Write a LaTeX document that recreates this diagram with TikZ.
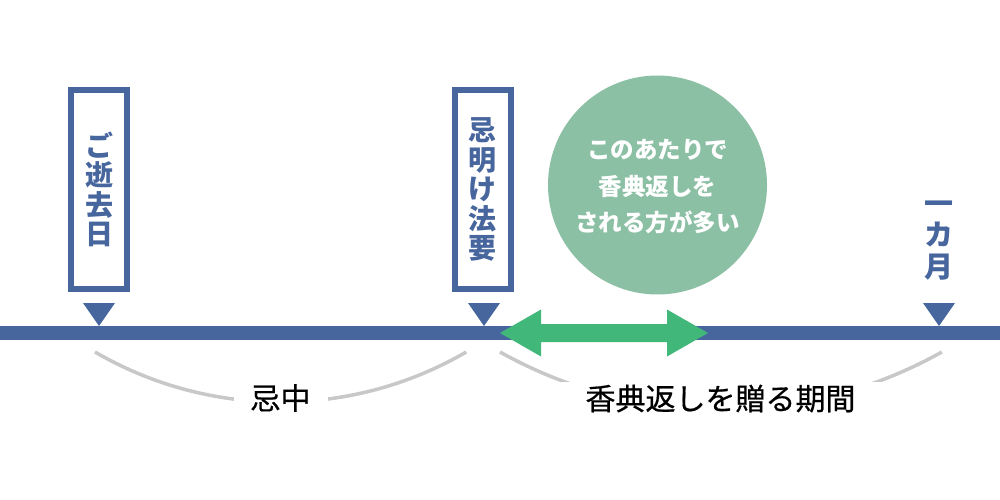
\documentclass[tikz,border=0pt]{standalone}
\usepackage{fontspec}
\newfontfamily\cjk{Noto Sans CJK JP}
\newfontfamily\cjkmed[FakeBold=0.6]{Noto Sans CJK JP}
\definecolor{tlblue}{HTML}{48669E}
\definecolor{arrgreen}{HTML}{41B87A}
\definecolor{circgreen}{HTML}{8CC0A5}
\definecolor{arcgray}{HTML}{C8C8C8}
\begin{document}
\begin{tikzpicture}[x=1pt,y=-1pt,
  eventbox/.style={draw=tlblue, line width=6pt, fill=white, minimum width=56pt, minimum height=199pt, inner sep=0pt,
    font=\cjk\bfseries\fontsize{28}{29.5}\selectfont, text=tlblue, align=center},
  vlabel/.style={font=\cjk\bfseries\fontsize{29}{31.5}\selectfont, text=tlblue, align=center, inner sep=0pt},
  marker/.style={fill=tlblue},
  arcline/.style={draw=arcgray, line width=3.5pt},
  periodlabel/.style={font=\cjkmed\fontsize{30}{34}\selectfont, text=black, fill=white, inner ysep=3pt},
  note/.style={font=\cjk\bfseries\fontsize{23.5}{36.5}\selectfont, text=white, align=center, inner sep=0pt}]
\fill[white] (0,0) rectangle (1000,500);
\useasboundingbox (0,0) rectangle (1000,500);
% gray arcs
\draw[arcline] (95,352) arc[start angle=120.2, end angle=59.8, radius=369];
\draw[arcline] (500,352) arc[start angle=119.26, end angle=60.74, radius=452];
\node[periodlabel, inner xsep=17pt] (p1) at (280.5,398) {忌中};
\node[periodlabel, inner xsep=25pt] (p2) at (720.5,398.5) {香典返しを贈る期間};
% timeline
\node[fill=tlblue, minimum width=1000pt, minimum height=14pt, inner sep=0pt] (tl) at (500,333) {};
% markers
\fill[marker] (83,303) -- (115,303) -- (99,326) -- cycle;
\fill[marker] (468,303) -- (500,303) -- (484,326) -- cycle;
\fill[marker] (923,303) -- (955,303) -- (939,326) -- cycle;
% boxes
\node[eventbox] (b1) at (99,189.5) {ご\\逝\\去\\日};
\node[eventbox] (b2) at (482.5,189.5) {忌\\明\\け\\法\\要};
\node[vlabel] (m1) at (939,240.5) {一\\カ\\月};
% circle
\node[circle, fill=circgreen, minimum size=219pt, inner sep=0pt] (c) at (657.5,185) {};
\node[note] (ct) at (657.5,187) {このあたりで\\香典返しを\\される方が多い};
% green double arrow
\fill[arrgreen] (500,333) -- (541,309.5) -- (541,324) -- (667,324) -- (667,309.5) -- (708,333)
  -- (667,356.5) -- (667,342) -- (541,342) -- (541,356.5) -- cycle;
\end{tikzpicture}
\end{document}
